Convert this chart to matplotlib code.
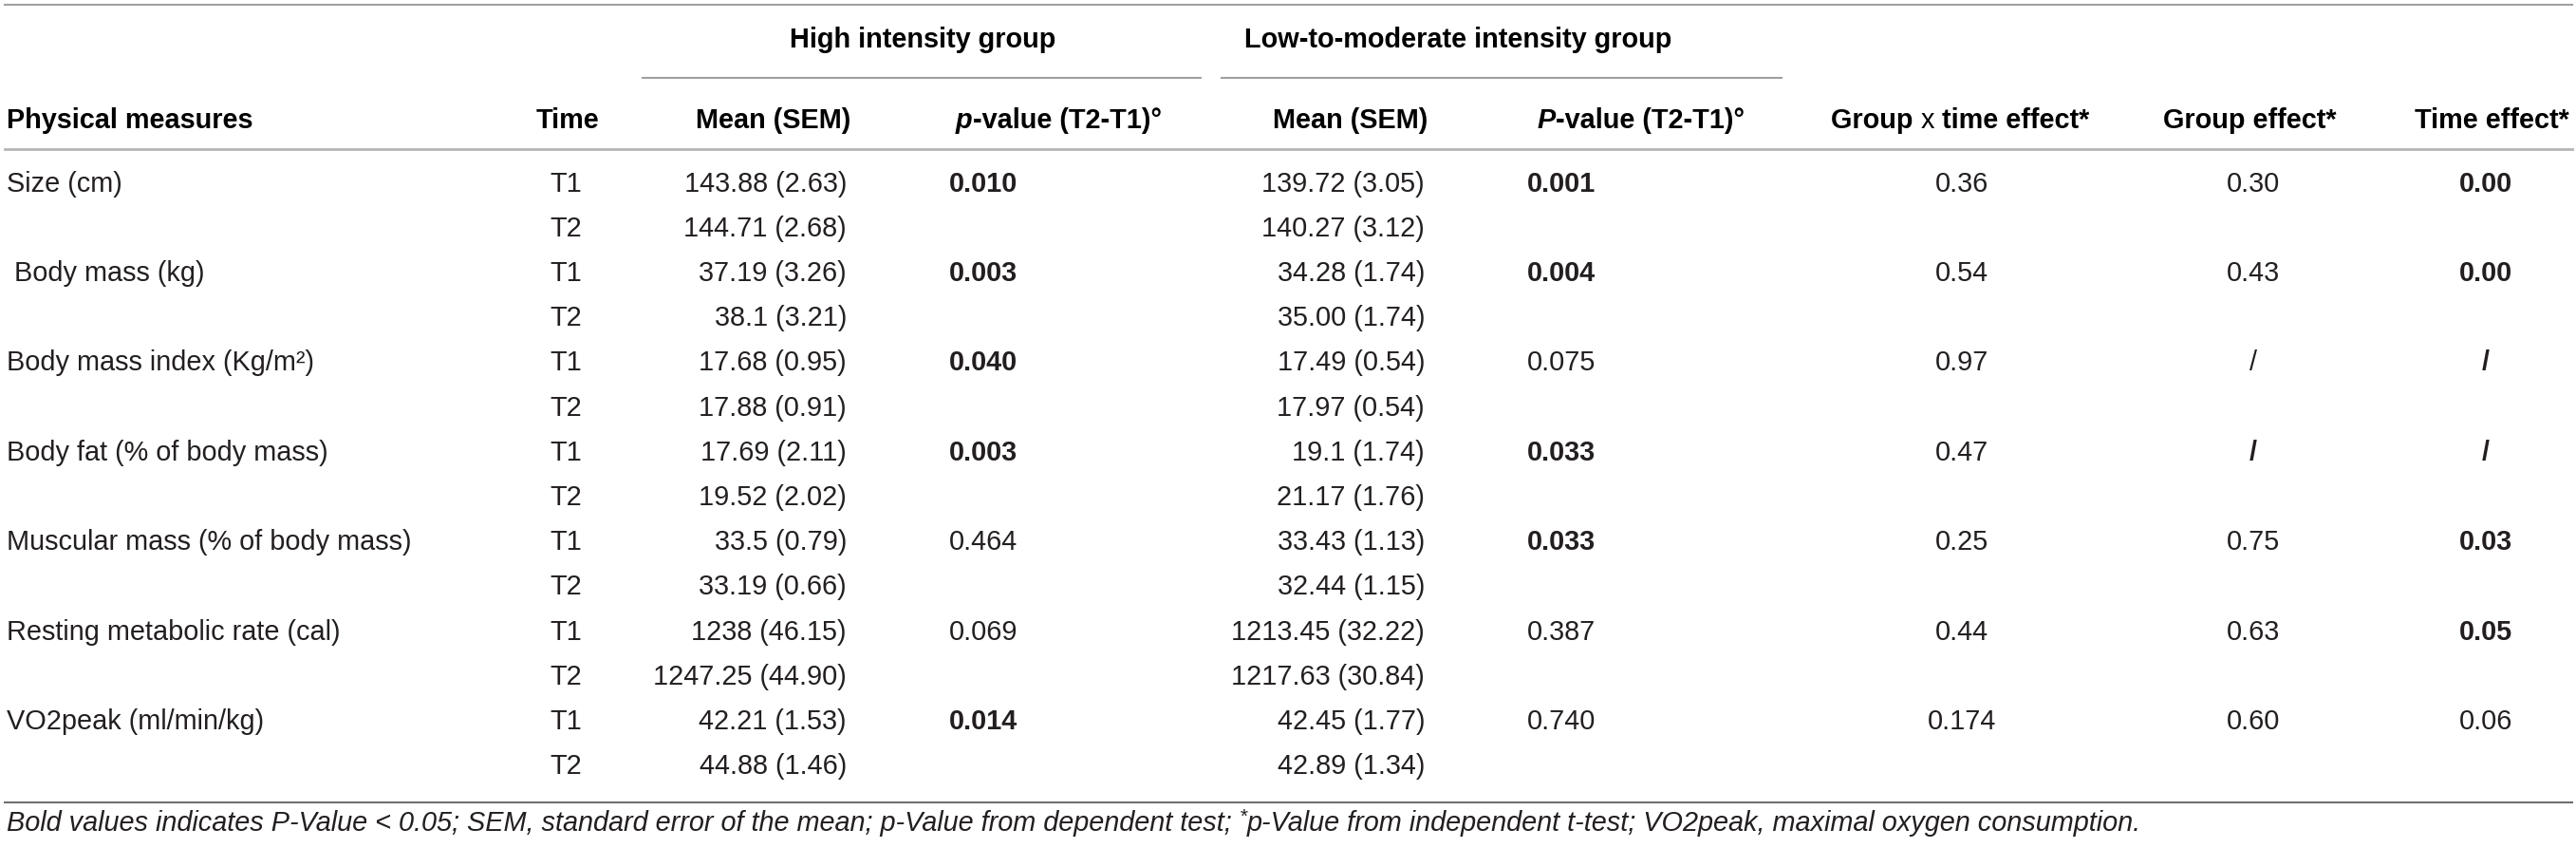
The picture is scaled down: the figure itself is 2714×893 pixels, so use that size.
import matplotlib
matplotlib.use("Agg")
import matplotlib.pyplot as plt

plt.rcParams['font.family'] = ['Liberation Sans', 'DejaVu Sans']

# table data
measures = ["Size (cm)", " Body mass (kg)", "Body mass index (Kg/m²)", "Body fat (% of body mass)",
            "Muscular mass (% of body mass)", "Resting metabolic rate (cal)", "VO2peak (ml/min/kg)"]
high_t1 = ["143.88 (2.63)", "37.19 (3.26)", "17.68 (0.95)", "17.69 (2.11)", "33.5 (0.79)", "1238 (46.15)", "42.21 (1.53)"]
high_t2 = ["144.71 (2.68)", "38.1 (3.21)", "17.88 (0.91)", "19.52 (2.02)", "33.19 (0.66)", "1247.25 (44.90)", "44.88 (1.46)"]
high_p = ["0.010", "0.003", "0.040", "0.003", "0.464", "0.069", "0.014"]
low_t1 = ["139.72 (3.05)", "34.28 (1.74)", "17.49 (0.54)", "19.1 (1.74)", "33.43 (1.13)", "1213.45 (32.22)", "42.45 (1.77)"]
low_t2 = ["140.27 (3.12)", "35.00 (1.74)", "17.97 (0.54)", "21.17 (1.76)", "32.44 (1.15)", "1217.63 (30.84)", "42.89 (1.34)"]
low_p = ["0.001", "0.004", "0.075", "0.033", "0.033", "0.387", "0.740"]
gxt_eff = ["0.36", "0.54", "0.97", "0.47", "0.25", "0.44", "0.174"]
group_eff = ["0.30", "0.43", "/", "/", "0.75", "0.63", "0.60"]
time_eff = ["0.00", "0.00", "/", "/", "0.03", "0.05", "0.06"]

# which cells are printed in bold
high_p_bold = [True, True, True, True, False, False, True]
low_p_bold = [True, True, False, True, True, False, False]
group_bold = [False, False, False, True, False, False, False]
time_bold = [True, True, True, True, True, True, False]

footnote = [("Bold values indicates P-Value < 0.05; SEM, standard error of the mean; p-Value from dependent test; ", {}),
            ("*", {"fontsize": 15, "dy": -7}),
            ("p-Value from independent t-test; VO2peak, maximal oxygen consumption.", {})]

W, H = 2714, 893
fig = plt.figure(figsize=(W / 100, H / 100), dpi=100)
ax = fig.add_axes([0, 0, 1, 1])
ax.set_xlim(0, W)
ax.set_ylim(H, 0)
ax.axis("off")
renderer = fig.canvas.get_renderer()

FS = 20.8
TXT = "#231f20"


def seg_text(x, y, parts, ha="left", **common):
    # draw several differently styled pieces next to each other
    arts = []
    for s, kw in parts:
        kw = dict(kw)
        dy = kw.pop("dy", 0)
        opts = dict(fontsize=FS, color=TXT, va="center")
        opts.update(common)
        opts.update(kw)
        t = ax.text(0, y + dy, s, **opts)
        arts.append(t)
    widths = [t.get_window_extent(renderer).width for t in arts]
    total = sum(widths)
    if ha == "center":
        x = x - total / 2
    cx = x
    for t, w in zip(arts, widths):
        t.set_x(cx)
        cx += w


# lines
line_c = "#a0a0a0"
ax.plot([5, 2710], [5, 5], color=line_c, lw=1.5)
ax.plot([677, 1265], [82, 82], color=line_c, lw=1.5)
ax.plot([1287, 1877], [82, 82], color=line_c, lw=1.5)
ax.plot([5, 2710], [157, 157], color="#b5b5b5", lw=2)
ax.plot([5, 2710], [845, 845], color="#707070", lw=1.5)

# header
hb = dict(fontsize=FS, color="black", fontweight="bold", va="center")
ax.text(972, 42, "High intensity group", ha="center", **hb)
ax.text(1311, 42, "Low-to-moderate intensity group", ha="left", **hb)
hy = 127
ax.text(7, hy, "Physical measures", ha="left", **hb)
ax.text(598, hy, "Time", ha="center", **hb)
ax.text(815, hy, "Mean (SEM)", ha="center", **hb)
seg_text(1007, hy, [("p", {"style": "italic"}), ("-value (T2-T1)°", {})], color="black", fontweight="bold")
ax.text(1423, hy, "Mean (SEM)", ha="center", **hb)
seg_text(1729, hy, [("P", {"style": "italic"}), ("-value (T2-T1)°", {})], ha="center", color="black", fontweight="bold")
seg_text(2065, hy, [("Group ", {}), ("x", {"fontweight": "normal"}), (" time effect*", {})], ha="center",
         color="black", fontweight="bold")
ax.text(2370, hy, "Group effect*", ha="center", **hb)
ax.text(2625, hy, "Time effect*", ha="center", **hb)

# body
y0, dy = 193.7, 47.2
for i, m in enumerate(measures):
    y1 = y0 + 2 * i * dy
    y2 = y1 + dy
    tk = dict(fontsize=FS, color=TXT, va="center")
    ax.text(7, y1, m, ha="left", **tk)
    ax.text(596, y1, "T1", ha="center", **tk)
    ax.text(596, y2, "T2", ha="center", **tk)
    ax.text(892, y1, high_t1[i], ha="right", **tk)
    ax.text(892, y2, high_t2[i], ha="right", **tk)
    ax.text(1000, y1, high_p[i], ha="left", fontweight="bold" if high_p_bold[i] else "normal", **tk)
    ax.text(1501, y1, low_t1[i], ha="right", **tk)
    ax.text(1501, y2, low_t2[i], ha="right", **tk)
    ax.text(1609, y1, low_p[i], ha="left", fontweight="bold" if low_p_bold[i] else "normal", **tk)
    ax.text(2067, y1, gxt_eff[i], ha="center", **tk)
    ax.text(2374, y1, group_eff[i], ha="center", fontweight="bold" if group_bold[i] else "normal", **tk)
    ax.text(2619, y1, time_eff[i], ha="center", fontweight="bold" if time_bold[i] else "normal", **tk)

seg_text(7, 867, footnote, style="italic")

fig.savefig("out.png", dpi=100)
